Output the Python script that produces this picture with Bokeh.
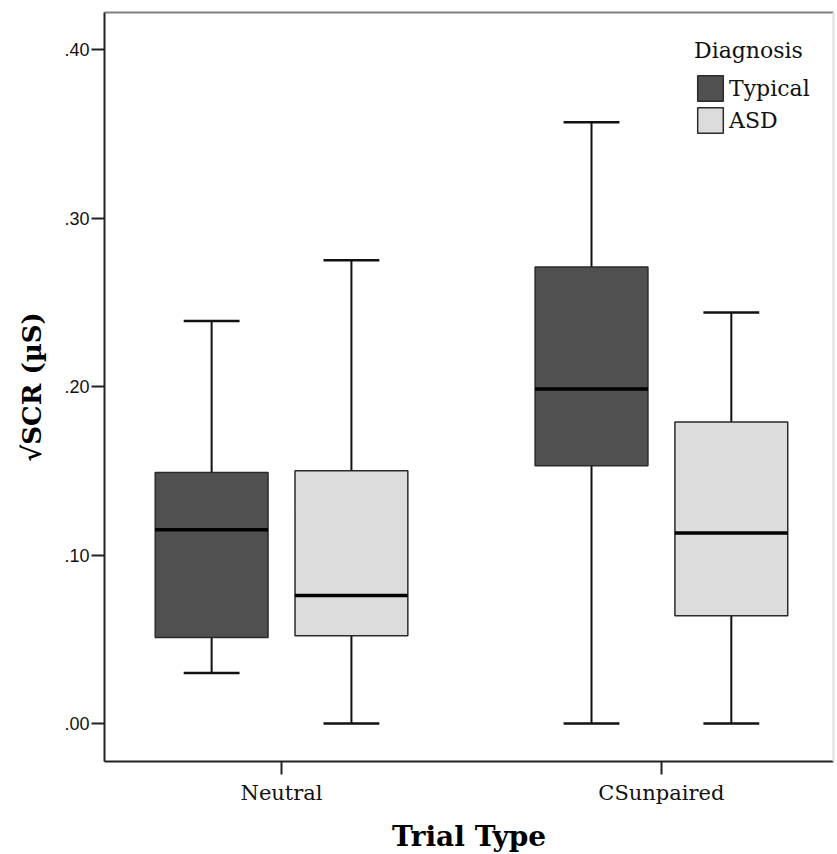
from bokeh.plotting import figure
from bokeh.models import Range1d, FixedTicker, LinearAxis, Legend, LegendItem, ColumnDataSource
from bokeh.embed import file_html
from bokeh.resources import INLINE

# ---- data ----
categories = ["Neutral", "CSunpaired"]
groups = ["Typical", "ASD"]

typical_min = [0.030, 0.000]
typical_q1 = [0.051, 0.153]
typical_med = [0.115, 0.1985]
typical_q3 = [0.149, 0.271]
typical_max = [0.239, 0.357]

asd_min = [0.000, 0.000]
asd_q1 = [0.052, 0.064]
asd_med = [0.076, 0.113]
asd_q3 = [0.150, 0.179]
asd_max = [0.275, 0.244]

y_ticks = [0.0, 0.1, 0.2, 0.3, 0.4]
y_tick_labels = [".00", ".10", ".20", ".30", ".40"]

# ---- styling ----
offsets = {"Typical": -0.184, "ASD": 0.184}
fills = {"Typical": "#505050", "ASD": "#dcdcdc"}
box_w = 0.297
cap_w = 0.147
SERIF = "DejaVu Serif"

p = figure(frame_width=729, frame_height=749,
           x_range=Range1d(-0.466, 1.453), y_range=Range1d(-0.0226, 0.4221),
           output_backend="svg", toolbar_location=None,
           min_border_left=104, min_border_right=2, min_border_top=12, min_border_bottom=92,
           background_fill_color="white", border_fill_color="white")
p.grid.visible = False
p.outline_line_color = None

series = {
    "Typical": (typical_min, typical_q1, typical_med, typical_q3, typical_max),
    "ASD": (asd_min, asd_q1, asd_med, asd_q3, asd_max),
}

legend_items = []
for g in groups:
    mn, q1, med, q3, mx = series[g]
    xs = [i + offsets[g] for i in range(len(categories))]
    src = ColumnDataSource(dict(
        x=xs, mn=mn, q1=q1, med=med, q3=q3, mx=mx,
        cl=[x - cap_w / 2 for x in xs], cr=[x + cap_w / 2 for x in xs],
        bl=[x - box_w / 2 for x in xs], br=[x + box_w / 2 for x in xs],
    ))
    # whiskers
    p.segment(x0="x", y0="q3", x1="x", y1="mx", source=src, line_color="#111111", line_width=2)
    p.segment(x0="x", y0="q1", x1="x", y1="mn", source=src, line_color="#111111", line_width=2)
    # caps
    p.segment(x0="cl", y0="mx", x1="cr", y1="mx", source=src, line_color="#111111", line_width=2.5)
    p.segment(x0="cl", y0="mn", x1="cr", y1="mn", source=src, line_color="#111111", line_width=2.5)
    # box
    r = p.vbar(x="x", width=box_w, top="q3", bottom="q1", source=src,
               fill_color=fills[g], line_color="#2a2a2a", line_width=1.5)
    # median
    p.segment(x0="bl", y0="med", x1="br", y1="med", source=src, line_color="#000000", line_width=3.5)
    legend_items.append(LegendItem(label=g, renderers=[r]))

# ---- axes ----
xa = p.xaxis[0]
xa.ticker = FixedTicker(ticks=list(range(len(categories))))
xa.major_label_overrides = {i: c for i, c in enumerate(categories)}
xa.axis_label = "Trial Type"
xa.axis_label_text_font = SERIF
xa.axis_label_text_font_style = "bold"
xa.axis_label_text_font_size = "28px"
xa.axis_label_text_color = "#000000"
xa.axis_label_standoff = 12
xa.major_label_text_font = SERIF
xa.major_label_text_font_size = "21px"
xa.major_label_text_color = "#111111"
xa.major_label_standoff = 6

ya = p.yaxis[0]
ya.ticker = FixedTicker(ticks=y_ticks)
ya.major_label_overrides = {t: l for t, l in zip(y_ticks, y_tick_labels)}
ya.axis_label = "√SCR (µS)"
ya.axis_label_text_font = SERIF
ya.axis_label_text_font_style = "bold"
ya.axis_label_text_font_size = "26px"
ya.axis_label_text_color = "#000000"
ya.axis_label_standoff = 14
ya.major_label_text_font = "Liberation Sans"
ya.major_label_text_font_size = "18px"
ya.major_label_text_color = "#111111"
ya.major_label_standoff = 2

for ax in (xa, ya):
    ax.axis_line_color = "#222222"
    ax.axis_line_width = 2
    ax.major_tick_out = 13
    ax.major_tick_in = 0
    ax.major_tick_line_width = 2
    ax.major_tick_line_color = "#222222"
    ax.minor_tick_line_color = None

# frame borders on top and right
top_ax = LinearAxis(ticker=FixedTicker(ticks=[]), axis_line_color="#808080", axis_line_width=2,
                    major_tick_line_color=None, minor_tick_line_color=None,
                    major_tick_out=0, major_tick_in=0, major_label_standoff=0,
                    major_label_text_font_size="0px")
right_ax = LinearAxis(ticker=FixedTicker(ticks=[]), axis_line_color="#dedede", axis_line_width=2,
                      major_tick_line_color=None, minor_tick_line_color=None,
                      major_tick_out=0, major_tick_in=0, major_label_standoff=0,
                      major_label_text_font_size="0px")
p.add_layout(top_ax, "above")
p.add_layout(right_ax, "right")

# ---- legend ----
legend = Legend(items=legend_items, location=(590, 625), title="Diagnosis",
                title_text_font=SERIF, title_text_font_size="22px", title_text_font_style="normal",
                title_text_color="#111111", title_standoff=9,
                label_text_font=SERIF, label_text_font_size="22px", label_text_color="#111111",
                glyph_width=32, glyph_height=32, label_height=26, label_standoff=3,
                spacing=0, padding=5, margin=0,
                border_line_color=None, background_fill_alpha=0)
p.add_layout(legend)

open("out.html", "w").write(file_html(p, INLINE))
